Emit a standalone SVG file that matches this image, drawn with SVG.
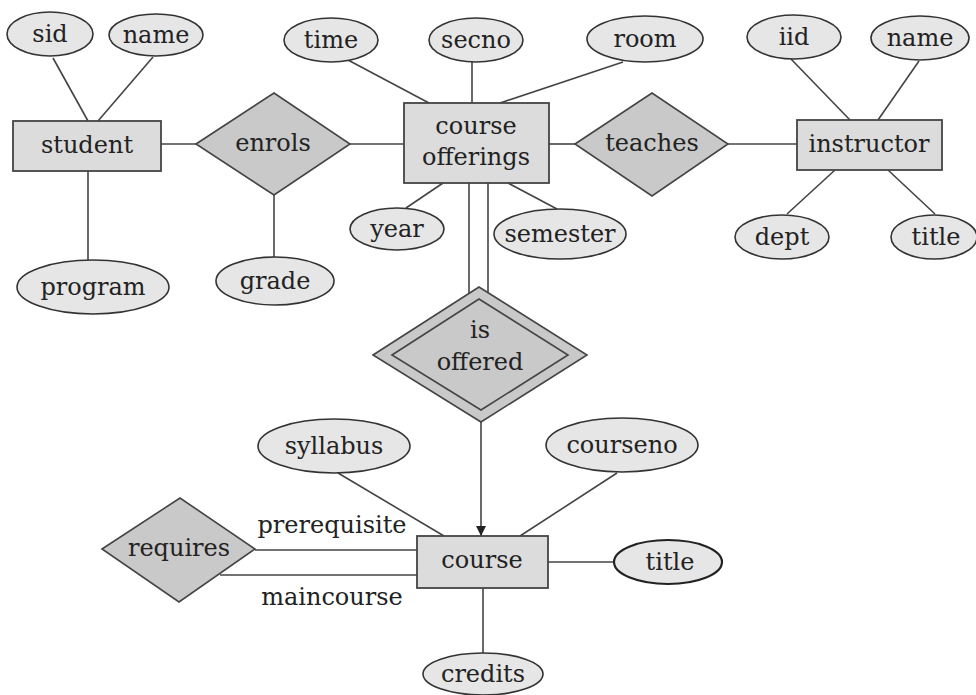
<svg xmlns="http://www.w3.org/2000/svg" width="976" height="695" viewBox="0 0 976 695">
<defs>
<style>
text{font-family:"DejaVu Serif","Liberation Serif",serif;font-size:24px;fill:#222;text-anchor:middle}
.attr{fill:#e6e6e6;stroke:#333;stroke-width:1.6}
.ent{fill:#dcdcdc;stroke:#444;stroke-width:1.8}
.rel{fill:#c9c9c9;stroke:#444;stroke-width:1.6}
.ln{stroke:#444;stroke-width:1.6;fill:none}
</style>
<marker id="arr" viewBox="0 0 10 14" refX="10" refY="7" markerWidth="10" markerHeight="14" markerUnits="userSpaceOnUse" orient="auto">
<path d="M0,2 L10,7 L0,12 Z" fill="#222"/>
</marker>
</defs>
<rect width="976" height="695" fill="#fff"/>
<g id="connectors">
<line class="ln" x1="53" y1="58" x2="88" y2="121"/>
<line class="ln" x1="153" y1="57" x2="98" y2="121"/>
<line class="ln" x1="88" y1="171" x2="88" y2="260"/>
<line class="ln" x1="161" y1="144" x2="196" y2="144"/>
<line class="ln" x1="274" y1="195" x2="274" y2="257"/>
<line class="ln" x1="350" y1="144" x2="404" y2="144"/>
<line class="ln" x1="348" y1="60" x2="429" y2="103"/>
<line class="ln" x1="472" y1="62" x2="472" y2="103"/>
<line class="ln" x1="623" y1="62" x2="500" y2="103"/>
<line class="ln" x1="406" y1="208" x2="443" y2="183"/>
<line class="ln" x1="557" y1="209" x2="508" y2="183"/>
<line class="ln" x1="549" y1="144" x2="575" y2="144"/>
<line class="ln" x1="728" y1="144" x2="797" y2="144"/>
<line class="ln" x1="791" y1="59" x2="850" y2="120"/>
<line class="ln" x1="919" y1="61" x2="878" y2="120"/>
<line class="ln" x1="787" y1="214" x2="835" y2="170"/>
<line class="ln" x1="935" y1="214" x2="888" y2="170"/>
<line class="ln" x1="469" y1="183" x2="469" y2="294"/>
<line class="ln" x1="488" y1="183" x2="488" y2="294"/>
<line class="ln" x1="481" y1="422" x2="481" y2="536" marker-end="url(#arr)"/>
<line class="ln" x1="338" y1="473" x2="444" y2="536"/>
<line class="ln" x1="617" y1="473" x2="520" y2="536"/>
<line class="ln" x1="255" y1="550" x2="417" y2="550"/>
<line class="ln" x1="220" y1="575" x2="417" y2="575"/>
<line class="ln" x1="548" y1="562" x2="613" y2="562"/>
<line class="ln" x1="483" y1="588" x2="483" y2="653"/>
<text x="332" y="533">prerequisite</text>
<text x="332" y="605">maincourse</text>
</g>
<g id="sid"><ellipse class="attr" cx="50" cy="34" rx="43" ry="22"/><text x="50" y="42">sid</text></g>
<g id="name-student"><ellipse class="attr" cx="156" cy="35" rx="47" ry="21"/><text x="156" y="43">name</text></g>
<g id="student"><rect class="ent" x="13" y="121" width="148" height="50"/><text x="87" y="153">student</text></g>
<g id="program"><ellipse class="attr" cx="93" cy="287" rx="76" ry="27"/><text x="93" y="295">program</text></g>
<g id="enrols"><polygon class="rel" points="196,144 274,93 350,144 274,195"/><text x="273" y="151">enrols</text></g>
<g id="grade"><ellipse class="attr" cx="275" cy="281" rx="59" ry="24"/><text x="275" y="289">grade</text></g>
<g id="time"><ellipse class="attr" cx="331" cy="40" rx="47" ry="22"/><text x="331" y="48">time</text></g>
<g id="secno"><ellipse class="attr" cx="476" cy="40" rx="47" ry="22"/><text x="476" y="48">secno</text></g>
<g id="room"><ellipse class="attr" cx="645" cy="39" rx="58" ry="23"/><text x="645" y="47">room</text></g>
<g id="course-offerings"><rect class="ent" x="404" y="103" width="145" height="80"/><text x="476" y="134">course</text><text x="476" y="165">offerings</text></g>
<g id="year"><ellipse class="attr" cx="397" cy="229" rx="47" ry="21"/><text x="397" y="237">year</text></g>
<g id="semester"><ellipse class="attr" cx="560" cy="234" rx="66" ry="25"/><text x="560" y="242">semester</text></g>
<g id="teaches"><polygon class="rel" points="575,144 652,93 728,144 652,196"/><text x="652" y="151">teaches</text></g>
<g id="instructor"><rect class="ent" x="797" y="120" width="145" height="50"/><text x="869" y="152">instructor</text></g>
<g id="iid"><ellipse class="attr" cx="794" cy="37" rx="47" ry="22"/><text x="794" y="45">iid</text></g>
<g id="name-instructor"><ellipse class="attr" cx="920" cy="38" rx="49" ry="22"/><text x="920" y="46">name</text></g>
<g id="dept"><ellipse class="attr" cx="782" cy="237" rx="47" ry="22"/><text x="782" y="245">dept</text></g>
<g id="title-instructor"><ellipse class="attr" cx="934" cy="237" rx="43" ry="22"/><text x="936" y="245">title</text></g>
<g id="is-offered"><polygon class="rel" points="373,355 479,287 587,355 481,422"/><polygon class="rel" points="392,355 479,299 568,355 481,410"/><text x="480" y="338">is</text><text x="480" y="370">offered</text></g>
<g id="syllabus"><ellipse class="attr" cx="334" cy="446" rx="76" ry="27"/><text x="334" y="454">syllabus</text></g>
<g id="courseno"><ellipse class="attr" cx="622" cy="445" rx="76" ry="27"/><text x="622" y="453">courseno</text></g>
<g id="course"><rect class="ent" x="417" y="536" width="131" height="52"/><text x="482" y="568">course</text></g>
<g id="requires"><polygon class="rel" points="102,549 180,498 255,549 179,602"/><text x="179" y="556">requires</text></g>
<g id="title-course"><ellipse class="attr" cx="668" cy="562" rx="54" ry="22" style="stroke-width:2.2;stroke:#222"/><text x="670" y="570">title</text></g>
<g id="credits"><ellipse class="attr" cx="483" cy="674" rx="60" ry="21"/><text x="483" y="682">credits</text></g>
</svg>
